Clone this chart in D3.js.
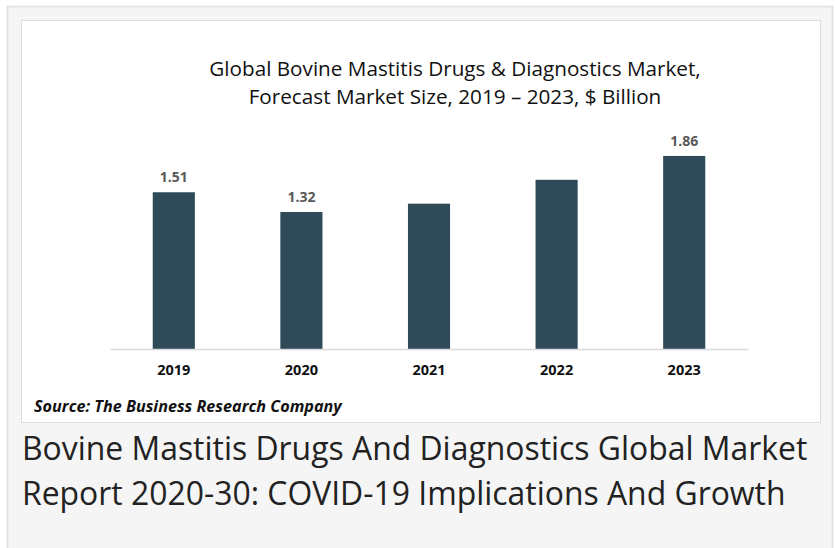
<!DOCTYPE html>
<html>
<head>
<meta charset="utf-8">
<script src="https://cdn.jsdelivr.net/npm/d3@7"></script>
<style>
  body { margin: 0; background: #fff; }
  svg { display: block; }
</style>
</head>
<body>
<svg width="836" height="548"></svg>
<script>
// chart data
var years = ["2019", "2020", "2021", "2022", "2023"];
var values = [1.51, 1.32, 1.40, 1.63, 1.86];
var shownLabels = ["1.51", "1.32", "", "", "1.86"];
var titleLines = ["Global Bovine Mastitis Drugs & Diagnostics Market,", "Forecast Market Size, 2019 \u2013 2023, $ Billion"];
var captionLines = ["Bovine Mastitis Drugs And Diagnostics Global Market", "Report 2020-30: COVID-19 Implications And Growth"];

var svg = d3.select("svg");

// outer grey panel + inner white chart box
svg.append("rect").attr("x", 7.5).attr("y", 6.5).attr("width", 825).attr("height", 560)
    .style("fill", "#f5f5f5").style("stroke", "#e3e3e3").style("stroke-width", 2);
svg.append("rect").attr("x", 21.5).attr("y", 20.5).attr("width", 799).attr("height", 402)
    .style("fill", "#fff").style("stroke", "#dcdcdc").style("stroke-width", 1);

var xScale = d3.scaleBand().domain(years).range([110, 748]).paddingInner(0.67).paddingOuter(0.335);
var yScale = d3.scaleLinear().domain([0, 2]).range([349, 141.4]);

// title
svg.append("g").selectAll("text").data(titleLines).enter().append("text")
    .attr("x", 455).attr("y", function (d, i) { return 76 + i * 28 })
    .attr("text-anchor", "middle")
    .style("font-family", "'Open Sans', sans-serif").style("font-size", "20.7px").style("fill", "#111")
    .text(function (d) { return d });

// bars
svg.selectAll("rect.bar").data(values).enter().append("rect").attr("class", "bar")
    .attr("x", function (d, i) { return xScale(years[i]) })
    .attr("width", xScale.bandwidth())
    .attr("y", function (d) { return yScale(d) })
    .attr("height", function (d) { return yScale(0) - yScale(d) })
    .style("fill", "#2f4a59");

// value labels
svg.selectAll("text.val").data(values).enter().append("text").attr("class", "val")
    .attr("x", function (d, i) { return xScale(years[i]) + xScale.bandwidth() / 2 })
    .attr("y", function (d) { return yScale(d) - 10 })
    .attr("text-anchor", "middle")
    .style("font-family", "'Open Sans', sans-serif").style("font-weight", "bold")
    .style("font-size", "14px").style("fill", "#595959")
    .text(function (d, i) { return shownLabels[i] });

// x axis
var xAxis = d3.axisBottom(xScale).tickSize(0).tickPadding(16);
var xAxisG = svg.append("g").attr("id", "xAxisG").attr("transform", "translate(0,349)").call(xAxis);
xAxisG.select(".domain").style("stroke", "#d9d9d9").style("stroke-width", 1.5);
xAxisG.selectAll("text").style("font-family", "'Open Sans', sans-serif").style("font-weight", "bold")
    .style("font-size", "14.5px").style("fill", "#111");

// source
svg.append("text").attr("x", 34).attr("y", 412)
    .style("font-family", "'Open Sans', sans-serif").style("font-weight", "bold").style("font-style", "italic")
    .style("font-size", "16.2px").style("fill", "#111")
    .text("Source: The Business Research Company");

// caption below the chart
svg.append("g").selectAll("text").data(captionLines).enter().append("text")
    .attr("x", 22).attr("y", function (d, i) { return 460 + i * 45 })
    .style("font-family", "'Open Sans', sans-serif").style("font-size", "31.9px").style("fill", "#222")
    .text(function (d) { return d });
</script>
</body>
</html>
